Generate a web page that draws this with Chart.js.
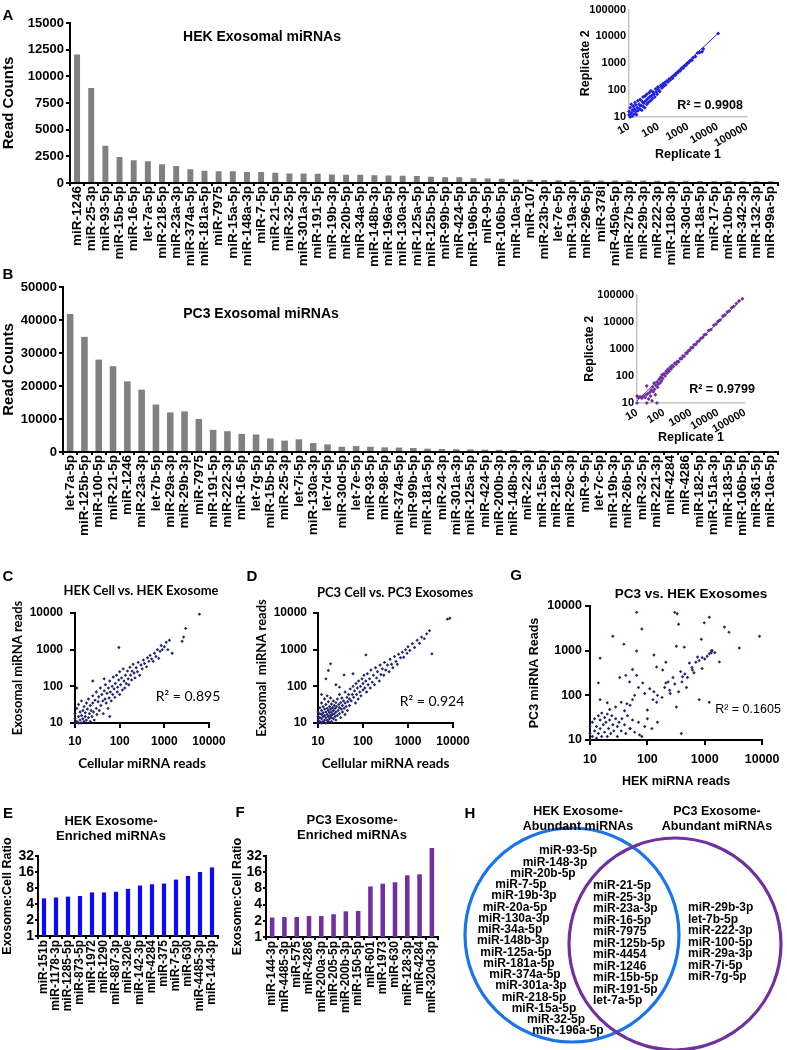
<!DOCTYPE html>
<html>
<head>
<meta charset="utf-8">
<script src="https://cdn.jsdelivr.net/npm/chart.js@4.4.1/dist/chart.umd.min.js"></script>
<style>
  body { margin: 0; background: #fff; }
  #page { position: relative; width: 787px; height: 1050px; overflow: hidden; background: #fff; }
  #page canvas { position: absolute; }
  .t { position: absolute; white-space: nowrap; line-height: 1; color: #000; }
</style>
</head>
<body>
<div id="page"></div>
<script>
// ---------- data ----------

// A - HEK exosomal miRNAs
const hekLabels = ['miR-1246','miR-25-3p','miR-93-5p','miR-15b-5p','miR-16-5p','let-7a-5p','miR-218-5p','miR-23a-3p','miR-374a-5p','miR-181a-5p',
  'miR-7975','miR-15a-5p','miR-148a-3p','miR-7-5p','miR-21-5p','miR-32-5p','miR-301a-3p','miR-191-5p','miR-19b-3p','miR-20b-5p',
  'miR-34a-5p','miR-148b-3p','miR-196a-5p','miR-130a-3p','miR-125a-5p','miR-125b-5p','miR-99b-5p','miR-424-5p','miR-196b-5p','miR-9-5p',
  'miR-106b-5p','miR-10a-5p','miR-107','miR-23b-3p','let-7e-5p','miR-19a-3p','miR-296-5p','miR-378i','miR-450a-5p','miR-27b-3p',
  'miR-29b-3p','miR-222-3p','miR-1180-3p','miR-30d-5p','miR-18a-5p','miR-17-5p','miR-10b-5p','miR-342-3p','miR-132-3p','miR-99a-5p'];
const hekCounts = [12050,8900,3500,2440,2130,2030,1750,1590,1280,1160,
  1090,1090,1040,1030,970,880,880,870,790,780,
  770,720,700,680,650,590,540,530,440,430,
  410,320,310,270,260,255,250,245,240,230,
  225,220,210,200,195,190,180,175,170,165];
const countTicksA = [0, 2500, 5000, 7500, 10000, 12500, 15000];

// B - PC3 exosomal miRNAs
const pc3Labels = ['let-7a-5p','miR-125b-5p','miR-100-5p','miR-21-5p','miR-1246','miR-23a-3p','let-7b-5p','miR-29a-3p','miR-29b-3p','miR-7975',
  'miR-191-5p','miR-222-3p','miR-16-5p','let-7g-5p','miR-15b-5p','miR-25-3p','let-7i-5p','miR-130a-3p','let-7d-5p','miR-30d-5p',
  'let-7e-5p','miR-93-5p','miR-98-5p','miR-374a-5p','miR-99b-5p','miR-181a-5p','miR-24-3p','miR-301a-3p','miR-125a-5p','miR-424-5p',
  'miR-200b-3p','miR-148b-3p','miR-22-3p','miR-15a-5p','miR-218-5p','miR-29c-3p','miR-9-5p','let-7c-5p','miR-19b-3p','miR-26b-5p',
  'miR-32-5p','miR-221-3p','miR-4284','miR-4286','miR-182-5p','miR-151a-3p','miR-183-5p','miR-106b-5p','miR-361-5p','miR-10a-5p'];
const pc3Counts = [41800,34900,28000,26000,21400,18900,14400,12000,12300,10000,
  6700,6300,5500,5300,4100,3450,3850,2700,2300,1600,
  1800,1600,1400,1350,1200,1000,900,850,800,700,
  650,600,550,500,460,430,400,370,340,310,
  290,270,250,230,210,200,190,180,170,160];
const countTicksB = [0, 10000, 20000, 30000, 40000, 50000];

// A/B insets - replicate 1 vs replicate 2
const repTicks = [10, 100, 1000, 10000, 100000];
const hekRep = [[10,12],[10,16],[11,10],[11,22],[12,14],[12,30],[13,11],[13,18],[14,25],[15,13],[15,20],[16,35],[17,16],[17,28],[18,12],
  [19,22],[20,40],[20,17],[22,30],[23,20],[24,45],[25,26],[27,18],[28,38],[30,55],[30,25],[32,33],[34,22],[35,60],[37,40],[40,30],
  [40,70],[43,48],[45,35],[48,80],[50,55],[53,40],[55,95],[58,62],[62,48],[65,85],[70,70],[75,55],[80,110],[85,85],[90,70],[95,130],
  [100,105],[110,90],[120,150],[130,120],[140,170],[150,140],[160,190],[175,160],[190,220],[210,200],[230,260],[250,240],[280,300],
  [300,280],[330,350],[370,360],[400,430],[450,440],[500,520],[550,530],[600,650],[680,660],[750,800],[850,830],[950,1000],[1050,1050],
  [1200,1250],[1350,1300],[1500,1600],[1800,1800],[2100,2400],[2500,2500],[3000,2700],[3300,3400],[10500,13000]];
const hekRepFit = [[10, 11], [10500, 13000]];
const pc3Rep = [[10,10],[10,18],[11,16],[13,17],[15,15],[17,18],[20,16],[22,20],[23,10],[23,42],[25,22],[27,14],[30,25],[32,18],[34,30],
  [36,12],[38,40],[40,26],[43,55],[45,32],[48,20],[50,45],[55,10],[55,60],[58,38],[62,50],[66,75],[70,55],[75,90],[80,65],[85,110],
  [90,80],[100,120],[110,100],[120,150],[130,125],[140,175],[155,150],[170,210],[185,180],[200,240],[220,220],[250,290],[280,270],
  [310,340],[350,330],[400,440],[450,430],[500,540],[560,530],[650,700],[720,690],[800,850],[900,880],[1000,1100],[1150,1100],
  [1300,1400],[1500,1450],[1700,1800],[2000,2000],[2300,2400],[2700,2600],[3100,3300],[3600,3400],[4500,4700],[5500,5200],
  [7000,7400],[8500,8200],[10000,10500],[12000,11500],[15000,16000],[18000,17500],[22000,23000],[26000,25000],[32000,33000],
  [38000,36000],[48000,47000],[60000,58000],[80000,70000]];
const pc3RepFit = [[10, 12], [80000, 70000]];

// C, D, G - log-log scatter plots
const logTicks = [10, 100, 1000, 10000];
const hekCellExo = [[10,10],[10,13],[10,18],[11,11],[11,25],[12,10],[12,15],[12,32],[13,12],[13,20],[14,10],[14,16],[14,40],[15,13],
  [15,22],[16,11],[16,28],[17,15],[17,19],[18,12],[18,35],[19,24],[20,14],[20,45],[21,18],[22,11],[22,30],[23,22],[24,15],[25,55],
  [25,35],[26,20],[27,12],[28,42],[30,25],[30,70],[31,17],[33,38],[34,52],[35,22],[37,90],[38,30],[40,60],[42,40],[43,18],[45,75],
  [47,45],[48,110],[50,35],[52,65],[55,25],[56,90],[58,48],[60,140],[62,70],[65,40],[68,100],[70,60],[72,180],[75,85],[78,50],
  [80,120],[85,200],[88,70],[90,95],[95,150],[100,60],[100,250],[105,110],[110,170],[115,80],[120,300],[125,140],[130,90],[135,200],
  [140,120],[150,260],[155,160],[160,110],[170,330],[175,200],[185,150],[190,260],[200,400],[210,230],[220,170],[235,320],[250,250],
  [260,450],[280,200],[300,380],[320,300],[340,520],[360,420],[400,340],[420,600],[450,480],[480,700],[520,560],[560,480],[600,800],
  [650,650],[700,1000],[750,580],[800,900],[850,1300],[900,1000],[1000,1200],[1100,1600],[1200,1000],[1300,1800],[1500,800],
  [2500,1700],[2700,2200],[3000,3800],[6100,9300],[11,90],[25,140],[96,1150],[45,160],[60,15]];
const pc3CellExo = [[10,10],[10,12],[10,15],[10,20],[11,11],[11,14],[11,18],[11,26],[12,10],[12,13],[12,17],[12,22],[12,35],[13,11],
  [13,15],[13,19],[13,28],[14,12],[14,16],[14,24],[14,45],[15,10],[15,14],[15,20],[15,32],[16,12],[16,17],[16,25],[16,55],[17,11],
  [17,15],[17,22],[17,38],[18,13],[18,19],[18,28],[19,16],[19,24],[19,48],[20,11],[20,14],[20,20],[20,33],[21,17],[21,26],[22,13],
  [22,22],[22,40],[23,18],[23,30],[24,15],[24,25],[25,12],[25,20],[25,36],[26,28],[27,16],[27,45],[28,22],[29,32],[30,18],[30,26],
  [30,60],[32,14],[32,36],[33,24],[34,48],[35,20],[35,30],[37,40],[38,25],[40,17],[40,35],[40,70],[42,28],[44,50],[45,22],[46,38],
  [48,60],[50,30],[50,45],[52,85],[55,40],[58,60],[60,100],[62,50],[65,75],[68,35],[70,120],[72,60],[75,90],[78,45],[80,140],[85,70],
  [88,100],[90,55],[95,160],[100,80],[100,120],[105,200],[110,90],[115,140],[120,70],[125,220],[130,110],[140,160],[145,90],[150,280],
  [160,130],[170,200],[180,110],[190,320],[200,170],[210,250],[230,140],[240,380],[250,210],[270,300],[290,200],[300,450],[320,280],
  [350,380],[380,250],[400,550],[430,400],[460,320],[500,650],[540,480],[580,400],[620,750],[680,600],[750,850],[800,620],[880,1000],
  [950,800],[1000,1200],[1100,950],[1250,1450],[1400,1150],[1600,1800],[1800,1500],[2000,2200],[2300,2000],[2600,2700],[3000,3300],
  [3400,770],[7500,6800],[8500,7200],[19,410],[17,270],[38,205],[15,160],[116,720],[25,110],[60,220],[12,60],[30,95]];
const pc3VsHek = [[10,10],[10,14],[10,20],[11,12],[11,25],[12,16],[12,30],[13,11],[13,20],[14,35],[14,14],[15,18],[15,28],[16,12],
  [16,40],[17,22],[18,15],[18,32],[19,25],[20,12],[20,38],[21,18],[22,28],[23,14],[24,35],[25,22],[26,16],[28,30],[30,20],[30,12],
  [32,25],[35,16],[36,30],[40,22],[42,14],[45,35],[50,18],[55,28],[60,15],[70,25],[80,12],[90,20],[100,30],[120,18],[150,25],
  [73,13],[390,14],[50,18],[130,120],[150,100],[180,90],[200,150],[250,110],[300,180],[350,120],[400,200],[450,300],[500,250],
  [600,420],[700,550],[800,600],[900,700],[1000,650],[1100,750],[1200,850],[1300,1000],[1500,900],[900,400],[650,320],[380,340],
  [280,250],[230,200],[110,140],[90,110],[70,150],[60,100],[50,60],[40,45],[35,70],[28,55],[22,48],
  [65,7200],[25,2100],[39,1400],[80,3050],[65,980],[15,680],[14,190],[300,7200],[330,6700],[350,3900],[320,1260],[440,1200],
  [980,4200],[1200,5600],[870,1800],[2200,3400],[2650,2600],[4000,1150],[9000,2100],[1800,560],[1300,900],[1350,1000],[750,720],
  [540,530],[210,550],[130,800],[145,430],[55,380],[33,250],[42,280],[49,200],[65,280],[83,190],[185,370],[210,190],[245,130],
  [410,260],[480,150],[610,370],[125,80],[145,70],[55,80],[44,65],[800,80],[1200,70],[20,68],[15,80],[100,47],[320,55]];

// E, F - exosome:cell ratios
const ratioTicks = [1, 2, 4, 8, 16, 32];
const hekEnrLabels = ['miR-151b','miR-1178-3p','miR-1285-5p','miR-873-5p','miR-1972','miR-1290','miR-887-3p','miR-320e',
  'miR-142-3p','miR-4284','miR-375','miR-7-5p','miR-630','miR-4485-3p','miR-144-3p'];
const hekEnrRatio = [5.1,5.3,5.5,5.65,6.6,6.6,6.8,7.7,8.9,9.4,9.7,11.5,13.5,16,19.5];
const pc3EnrLabels = ['miR-144-3p','miR-4485-3p','miR-575','miR-4286','miR-200a-3p','miR-205-5p','miR-200b-3p','miR-150-5p',
  'miR-601','miR-1973','miR-630','miR-128-3p','miR-4284','miR-320d-3p'];
const pc3EnrRatio = [2.3,2.35,2.35,2.45,2.45,2.65,3.0,3.05,8.7,9.8,10.4,14,14.6,45];

// H - Venn lists
const vennHekOnly = ['miR-93-5p','miR-148-3p','miR-20b-5p','miR-7-5p','miR-19b-3p','miR-20a-5p','miR-130a-3p','miR-34a-5p',
  'miR-148b-3p','miR-125a-5p','miR-181a-5p','miR-374a-5p','miR-301a-3p','miR-218-5p','miR-15a-5p','miR-32-5p','miR-196a-5p'];
const vennShared = ['miR-21-5p','miR-25-3p','miR-23a-3p','miR-16-5p','miR-7975','miR-125b-5p','miR-4454','miR-1246',
  'miR-15b-5p','miR-191-5p','let-7a-5p'];
const vennPc3Only = ['miR-29b-3p','let-7b-5p','miR-222-3p','miR-100-5p','miR-29a-3p','miR-7i-5p','miR-7g-5p'];

// ---------- helpers ----------
const ARIAL = '"Liberation Sans", Arial, sans-serif';
const CALI = 'Lato, "Liberation Sans", sans-serif';
const page = document.getElementById('page');

Chart.defaults.font.family = ARIAL;
Chart.defaults.color = '#000';
Chart.defaults.animation = false;
Chart.defaults.responsive = false;
Chart.defaults.plugins.legend.display = false;
Chart.defaults.plugins.tooltip.enabled = false;

function fnt(size, weight, family) {
  return { size: size, weight: weight || 'bold', family: family || ARIAL, lineHeight: 1.2 };
}

function txt(s, x, y, font, align) {
  const d = document.createElement('div');
  d.className = 't';
  d.textContent = s;
  d.style.font = font;
  d.style.left = x + 'px';
  d.style.top = y + 'px';
  const tx = align === 'left' ? '0' : (align === 'right' ? '-100%' : '-50%');
  d.style.transform = 'translate(' + tx + ',-50%)';
  page.appendChild(d);
}

function addCanvas(l, t, w, h) {
  const c = document.createElement('canvas');
  c.width = w; c.height = h;
  c.style.left = l + 'px'; c.style.top = t + 'px';
  c.style.width = w + 'px'; c.style.height = h + 'px';
  page.appendChild(c);
  return c.getContext('2d');
}

function axis(o) {
  const line = o.line || '#000';
  const lw = o.lw || 2;
  const a = {
    type: o.type || 'linear',
    border: { color: line, width: lw },
    grid: { drawOnChartArea: false, drawTicks: (o.tick || 0) > 0, tickLength: o.tick || 0, color: line, lineWidth: lw },
    ticks: { font: o.font, color: '#000', padding: o.pad || 0, autoSkip: false, minRotation: o.rot || 0, maxRotation: o.rot || 0 },
    title: { display: !!o.title, text: o.title || '', font: o.titleFont, color: '#000', padding: { top: o.titlePad || 0, bottom: o.titlePad || 0 } }
  };
  if (o.ticks) {
    a.min = o.ticks[0];
    a.max = o.ticks[o.ticks.length - 1];
    a.afterBuildTicks = s => { s.ticks = o.ticks.map(v => ({ value: v })); };
    a.ticks.callback = v => String(v);
  }
  return a;
}

// b: canvas box + wanted plot area [left, top, right, bottom] in page pixels
function makeChart(b, type, data, x, y) {
  const ctx = addCanvas(b.l, b.t, b.w, b.h);
  const [al, at, ar, ab] = b.area;
  x.afterFit = s => { s.height = b.t + b.h - ab; };
  y.afterFit = s => { s.width = al - b.l; };
  return new Chart(ctx, {
    type: type,
    data: data,
    options: {
      layout: { autoPadding: false, padding: { left: 0, bottom: 0, top: at - b.t, right: b.l + b.w - ar } },
      scales: { x: x, y: y }
    }
  });
}

function dots(pts, color, r) {
  return { data: pts.map(p => ({ x: p[0], y: p[1] })), pointStyle: 'rectRot', pointRadius: r,
    backgroundColor: color, borderColor: color, borderWidth: 0, clip: false };
}
function fitLine(pts, color) {
  return { data: pts.map(p => ({ x: p[0], y: p[1] })), showLine: true, borderColor: color, borderWidth: 1,
    pointRadius: 0, fill: false, clip: false };
}

// ---------- A ----------
makeChart({ l: 0, t: 0, w: 787, h: 272, area: [70, 23, 782, 183] }, 'bar',
  { labels: hekLabels, datasets: [{ data: hekCounts, backgroundColor: '#808080', barPercentage: 0.42, categoryPercentage: 1 }] },
  axis({ type: 'category', tick: 3, font: fnt(13.5), pad: 0, rot: 90 }),
  axis({ ticks: countTicksA, tick: 4, font: fnt(13), pad: 2, title: 'Read Counts', titleFont: fnt(15), titlePad: 0 }));

// ---------- B ----------
makeChart({ l: 0, t: 262, w: 787, h: 292, area: [63, 287, 783, 452] }, 'bar',
  { labels: pc3Labels, datasets: [{ data: pc3Counts, backgroundColor: '#808080', barPercentage: 0.46, categoryPercentage: 1 }] },
  axis({ type: 'category', tick: 3, font: fnt(13.5), pad: 0, rot: 90 }),
  axis({ ticks: countTicksB, tick: 4, font: fnt(13), pad: 2, title: 'Read Counts', titleFont: fnt(15), titlePad: 0 }));

// ---------- insets ----------
const insetAxis = (title, pad, rot) => axis({ type: 'logarithmic', ticks: repTicks, font: fnt(11), pad: 3, rot: rot,
  line: '#c4c4c4', lw: 1.5, title: title, titleFont: fnt(12.5), titlePad: pad });

makeChart({ l: 570, t: 0, w: 217, h: 165, area: [629, 6, 747, 117] }, 'scatter',
  { datasets: [dots(hekRep, '#2020e0', 2), fitLine(hekRepFit, '#2020e0')] },
  insetAxis('Replicate 1', 2.5, 30), insetAxis('Replicate 2', 8.5, 0));

makeChart({ l: 575, t: 285, w: 212, h: 165, area: [637, 291, 745, 403] }, 'scatter',
  { datasets: [dots(pc3Rep, '#7030a0', 2), fitLine(pc3RepFit, '#7030a0')] },
  insetAxis('Replicate 1', 4.5, 30), insetAxis('Replicate 2', 7.5, 0));

// ---------- C, D, G ----------
const NAVY = '#25256e';
makeChart({ l: 0, t: 578, w: 250, h: 205, area: [75, 613, 209, 723] }, 'scatter',
  { datasets: [dots(hekCellExo, NAVY, 1.7)] },
  axis({ type: 'logarithmic', ticks: logTicks, tick: 5, font: fnt(12), pad: 6,
    title: 'Cellular miRNA reads', titleFont: fnt(13.5, 'bold', CALI), titlePad: 11.5 }),
  axis({ type: 'logarithmic', ticks: logTicks, tick: 5, font: fnt(12), pad: 7,
    title: 'Exosomal miRNA reads', titleFont: fnt(13, 'bold', CALI), titlePad: 10 }));

makeChart({ l: 250, t: 578, w: 268, h: 205, area: [318, 613, 453, 723] }, 'scatter',
  { datasets: [dots(pc3CellExo, NAVY, 1.7)] },
  axis({ type: 'logarithmic', ticks: logTicks, tick: 5, font: fnt(12), pad: 6,
    title: 'Cellular miRNA reads', titleFont: fnt(13.5, 'bold', CALI), titlePad: 11.5 }),
  axis({ type: 'logarithmic', ticks: logTicks, tick: 5, font: fnt(12), pad: 6,
    title: 'Exosomal  miRNA reads', titleFont: fnt(13, 'bold', CALI), titlePad: 4 }));

makeChart({ l: 518, t: 592, w: 269, h: 200, area: [590, 606, 763, 740] }, 'scatter',
  { datasets: [dots(pc3VsHek, NAVY, 1.7)] },
  axis({ type: 'logarithmic', ticks: logTicks, tick: 5, font: fnt(12.5), pad: 7.5,
    title: 'HEK miRNA reads', titleFont: fnt(12.5), titlePad: 2.5 }),
  axis({ type: 'logarithmic', ticks: logTicks, tick: 5, font: fnt(12.5), pad: 3,
    title: 'PC3 miRNA Reads', titleFont: fnt(12.5), titlePad: 9.5 }));

// ---------- E, F ----------
makeChart({ l: 0, t: 822, w: 230, h: 218, area: [38, 856, 218, 936] }, 'bar',
  { labels: hekEnrLabels, datasets: [{ data: hekEnrRatio, backgroundColor: '#0a0aff', barPercentage: 0.35, categoryPercentage: 1, clip: false }] },
  axis({ type: 'category', tick: 3, font: fnt(12), pad: 1, rot: 90 }),
  axis({ type: 'logarithmic', ticks: ratioTicks, tick: 3, font: fnt(14), pad: 1,
    title: 'Exosome:Cell Ratio', titleFont: fnt(12.5), titlePad: 0.5 }));

makeChart({ l: 228, t: 822, w: 230, h: 218, area: [266, 856, 438, 937] }, 'bar',
  { labels: pc3EnrLabels, datasets: [{ data: pc3EnrRatio, backgroundColor: '#7030a0', barPercentage: 0.37, categoryPercentage: 1, clip: false }] },
  axis({ type: 'category', tick: 3, font: fnt(12), pad: 1, rot: 90 }),
  axis({ type: 'logarithmic', ticks: ratioTicks, tick: 3, font: fnt(14), pad: 1,
    title: 'Exosome:Cell Ratio', titleFont: fnt(12.5), titlePad: 2.5 }));

// ---------- H (Venn) ----------
// layout of the Venn panel, in panel units (1 unit = 1 px, origin at the canvas top-left)
const vennCircles = [{ x: 117, y: 135, r: 107, color: '#1a75e8' }, { x: 220, y: 144, r: 106, color: '#7030a0' }];
const vennHekX = [113, 100, 88, 66, 69, 60, 59, 55, 58, 61, 64, 70, 76, 79, 89, 101, 113];

function textSet(names, xs, y0, step, align, font) {
  return { data: names.map((n, i) => ({ x: Array.isArray(xs) ? xs[i] : xs, y: y0 + i * step })), texts: names,
    textAlign: align, textFont: font, pointRadius: 0, clip: false };
}
const vennText = {
  id: 'vennText',
  afterDatasetsDraw(chart) {
    const ctx = chart.ctx;
    chart.data.datasets.forEach((ds, i) => {
      if (!ds.texts) return;
      const meta = chart.getDatasetMeta(i);
      ctx.save();
      ctx.font = ds.textFont;
      ctx.fillStyle = '#000';
      ctx.textAlign = ds.textAlign;
      ctx.textBaseline = 'middle';
      ds.texts.forEach((t, j) => ctx.fillText(t, meta.data[j].x, meta.data[j].y));
      ctx.restore();
    });
  }
};

const VF = 'bold 12px ' + ARIAL;
new Chart(addCanvas(455, 800, 332, 250), {
  type: 'scatter',
  data: {
    datasets: [
      { data: vennCircles.map(c => ({ x: c.x, y: c.y })), pointStyle: 'circle', pointRadius: vennCircles.map(c => c.r),
        backgroundColor: 'rgba(0,0,0,0)', borderColor: vennCircles.map(c => c.color), borderWidth: 3.2, clip: false },
      textSet(vennHekOnly, vennHekX, 51, 11.25, 'center', VF),
      textSet(vennShared, 138, 86, 11.5, 'left', VF),
      textSet(vennPc3Only, 233, 108, 11.5, 'left', VF),
      textSet(['HEK Exosome-', 'Abundant miRNAs'], 123, 12, 15, 'center', 'bold 12.5px ' + ARIAL),
      textSet(['PC3 Exosome-', 'Abundant miRNAs'], 262, 12, 15, 'center', 'bold 12.5px ' + ARIAL)
    ]
  },
  options: {
    layout: { autoPadding: false, padding: 0 },
    scales: {
      x: { type: 'linear', min: 0, max: 332, display: false },
      y: { type: 'linear', min: 0, max: 250, reverse: true, display: false }
    }
  },
  plugins: [vennText]
});

// ---------- panel letters, titles, R² ----------
const L = 'bold 15px ' + ARIAL;
txt('A', 8, 14, L); txt('B', 8, 273, L); txt('C', 8, 575, L); txt('D', 252, 575, L);
txt('G', 516, 574, L); txt('E', 8, 812, L); txt('F', 240, 811, L); txt('H', 470, 812, L);

txt('HEK Exosomal miRNAs', 262, 36, 'bold 14px ' + ARIAL);
txt('PC3 Exosomal miRNAs', 261, 313, 'bold 14px ' + ARIAL);
txt('HEK Cell vs. HEK Exosome', 141, 590, 'bold 13px ' + CALI);
txt('PC3 Cell vs. PC3 Exosomes', 395, 592, 'bold 13px ' + CALI);
txt('PC3 vs. HEK Exosomes', 691, 593, 'bold 13.5px ' + ARIAL);
txt('HEK Exosome-', 111, 820, 'bold 13px ' + ARIAL);
txt('Enriched miRNAs', 111, 835, 'bold 13px ' + ARIAL);
txt('PC3 Exosome-', 352, 819, 'bold 13px ' + ARIAL);
txt('Enriched miRNAs', 352, 834, 'bold 13px ' + ARIAL);

txt('R² = 0.9908', 710, 105, 'bold 12.5px ' + ARIAL);
txt('R² = 0.9799', 722, 389, 'bold 12.5px ' + ARIAL);
txt('R² = 0.895', 188, 695, '14px ' + CALI);
txt('R² = 0.924', 432, 700, '14px ' + CALI);
txt('R² = 0.1605', 748, 709, '12.5px ' + ARIAL);
</script>
</body>
</html>
